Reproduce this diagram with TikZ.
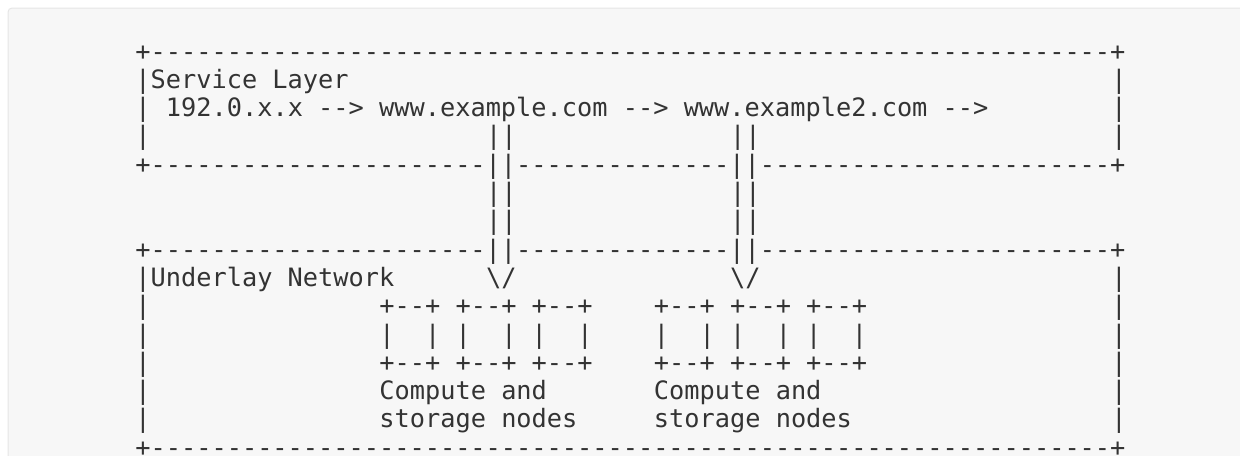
\documentclass[tikz,border=0pt]{standalone}
\usepackage{fontspec}
\setmonofont{DejaVu Sans Mono}
\definecolor{ink}{HTML}{333333}
\definecolor{panel}{HTML}{F7F7F7}
\definecolor{panelline}{HTML}{E6E6E6}
\tikzset{
  ascii/.style={anchor=base west,inner sep=0pt,outer sep=0pt,text=ink,
    font=\ttfamily\fontsize{25.3pt}{28.3pt}\selectfont},
}
\begin{document}
\begin{tikzpicture}[x=15.25pt,y=-28.3pt]
  \clip (-8.879,-2.120) rectangle (72.43,13.958); % page
  \draw [fill=panel,draw=panelline,line width=1pt,rounded corners=4pt] (-8.354,-1.837) rectangle (80,20); % code panel
  % service layer box
  \node [ascii] (svcTop) at (0,0) {+---------------------------------------------------------------+};
  \node [ascii] (svcTitle) at (0,1) {|Service Layer};
  \node [ascii] (svcR1) at (64,1) {|};
  \node [ascii] (svcL2) at (0,2) {|};
  \node [ascii] (flow) at (2,2) {192.0.x.x --> www.example.com --> www.example2.com -->};
  \node [ascii] (svcR2) at (64,2) {|};
  \node [ascii] (svcL3) at (0,3) {|};
  \node [ascii] (pipeA3) at (23,3) {||};
  \node [ascii] (pipeB3) at (39,3) {||};
  \node [ascii] (svcR3) at (64,3) {|};
  \node [ascii] (svcBot) at (0,4) {+----------------------||--------------||-----------------------+};
  % links between the layers
  \node [ascii] (pipeA5) at (23,5) {||};
  \node [ascii] (pipeB5) at (39,5) {||};
  \node [ascii] (pipeA6) at (23,6) {||};
  \node [ascii] (pipeB6) at (39,6) {||};
  % underlay network box
  \node [ascii] (netTop) at (0,7) {+----------------------||--------------||-----------------------+};
  \node [ascii] (netTitle) at (0,8) {|Underlay Network};
  \node [ascii] (arrowA) at (23,8) {\textbackslash/};
  \node [ascii] (arrowB) at (39,8) {\textbackslash/};
  \node [ascii] (netR8) at (64,8) {|};
  \node [ascii] (netL9) at (0,9) {|};
  \node [ascii] (hostsA9) at (16,9) {+--+ +--+ +--+};
  \node [ascii] (hostsB9) at (34,9) {+--+ +--+ +--+};
  \node [ascii] (netR9) at (64,9) {|};
  \node [ascii] (netL10) at (0,10) {|};
  \node [ascii] (hostsA10) at (16,10) {|~~|~|~~|~|~~|};
  \node [ascii] (hostsB10) at (34,10) {|~~|~|~~|~|~~|};
  \node [ascii] (netR10) at (64,10) {|};
  \node [ascii] (netL11) at (0,11) {|};
  \node [ascii] (hostsA11) at (16,11) {+--+ +--+ +--+};
  \node [ascii] (hostsB11) at (34,11) {+--+ +--+ +--+};
  \node [ascii] (netR11) at (64,11) {|};
  \node [ascii] (netL12) at (0,12) {|};
  \node [ascii] (labelA1) at (16,12) {Compute and};
  \node [ascii] (labelB1) at (34,12) {Compute and};
  \node [ascii] (netR12) at (64,12) {|};
  \node [ascii] (netL13) at (0,13) {|};
  \node [ascii] (labelA2) at (16,13) {storage nodes};
  \node [ascii] (labelB2) at (34,13) {storage nodes};
  \node [ascii] (netR13) at (64,13) {|};
  \node [ascii] (netBot) at (0,14) {+---------------------------------------------------------------+};
\end{tikzpicture}
\end{document}
